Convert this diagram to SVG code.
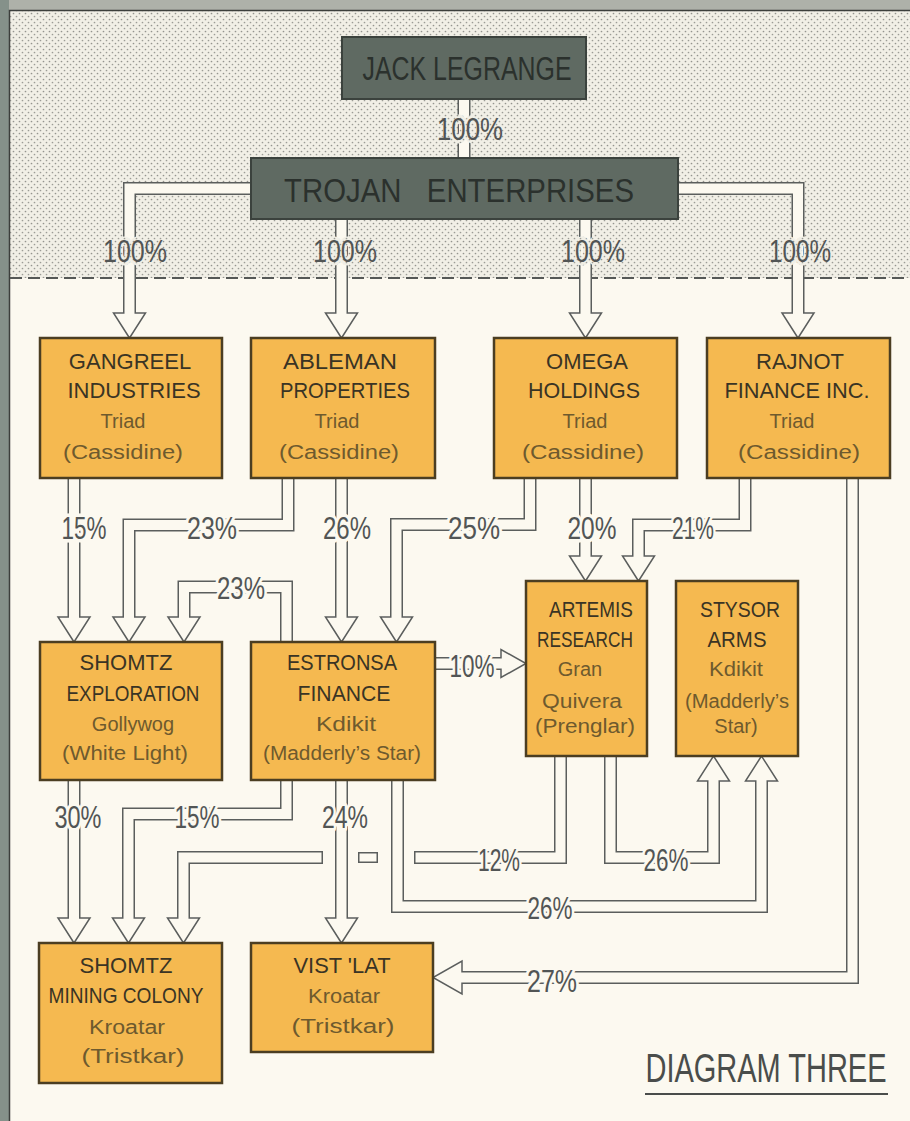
<svg xmlns="http://www.w3.org/2000/svg" width="910" height="1121" viewBox="0 0 910 1121">
<defs>
<pattern id="dots" width="6" height="6" patternUnits="userSpaceOnUse">
<rect width="6" height="6" fill="#f1efe6"/>
<circle cx="1.5" cy="1.5" r="0.85" fill="#94948e"/>
<circle cx="4.5" cy="4.5" r="0.85" fill="#9c9c96"/>
</pattern>
<style>
.po{fill:none;stroke:#5b5e5d;stroke-width:13;stroke-linejoin:miter}
.pi{fill:none;stroke:#fcf9f0;stroke-width:10;stroke-linejoin:miter}
.hd{fill:#fcf9f0;stroke:#5b5e5d;stroke-width:1.5;stroke-linejoin:miter}
.pc{fill:#fcf9f0;stroke:#5b5e5d;stroke-width:1.5}
.lb{font-family:"Liberation Sans",Arial,sans-serif;font-size:32px;fill:#525555;text-anchor:middle;stroke:#fcf9f0;stroke-width:7;paint-order:stroke;stroke-linejoin:round}
.lbs{stroke:url(#dots)}
.box{fill:#f5b950;stroke:#4b3e22;stroke-width:2.5}
.dbox{fill:#5f6a62;stroke:#3b423d;stroke-width:2}
.nm{font-family:"Liberation Sans",Arial,sans-serif;font-size:22px;fill:#3a3424;text-anchor:middle}
.sb{font-family:"Liberation Sans",Arial,sans-serif;font-size:20px;fill:#6e5a2e;text-anchor:middle}
.dk{font-family:"Liberation Sans",Arial,sans-serif;font-size:34px;fill:#2b312d;text-anchor:middle}
</style>
</defs>
<rect width="910" height="1121" fill="#fcf9f0"/>
<rect x="10" y="11" width="900" height="267" fill="url(#dots)"/>
<rect x="0" y="0" width="910" height="10" fill="#aeb1a9"/>
<rect x="0" y="0" width="9" height="1121" fill="#85918a"/>
<path d="M9.5 1121 V10.5 H910" fill="none" stroke="#3c3f3c" stroke-width="1.5"/>
<line x1="10" y1="278" x2="910" y2="278" stroke="#555856" stroke-width="2" stroke-dasharray="12 6"/>

<g id="connectors">
<g id="c-jack-trojan"><path class="po" d="M464 95 V162"/><path class="pi" d="M464 95 V162"/></g>
<g id="c-trojan-gangreel"><path class="po" d="M255 188.5 H129.5 V313"/><polygon class="hd" points="113.5,313 145.5,313 129.5,338"/><path class="pi" d="M255 188.5 H129.5 V315"/></g>
<g id="c-trojan-ableman"><path class="po" d="M341.5 215 V313"/><polygon class="hd" points="325.5,313 357.5,313 341.5,338"/><path class="pi" d="M341.5 215 V315"/></g>
<g id="c-trojan-omega"><path class="po" d="M585.5 215 V313"/><polygon class="hd" points="569.5,313 601.5,313 585.5,338"/><path class="pi" d="M585.5 215 V315"/></g>
<g id="c-trojan-rajnot"><path class="po" d="M674 188.5 H798 V313"/><polygon class="hd" points="782,313 814,313 798,338"/><path class="pi" d="M674 188.5 H798 V315"/></g>
<g id="c-gangreel-shomtzexp"><path class="po" d="M74 474 V617"/><polygon class="hd" points="58,617 90,617 74,642"/><path class="pi" d="M74 474 V619"/></g>
<g id="c-ableman-shomtzexp"><path class="po" d="M288 474 V525 H129 V617"/><polygon class="hd" points="113,617 145,617 129,642"/><path class="pi" d="M288 474 V525 H129 V619"/></g>
<g id="c-ableman-estronsa"><path class="po" d="M341.5 474 V617"/><polygon class="hd" points="325.5,617 357.5,617 341.5,642"/><path class="pi" d="M341.5 474 V619"/></g>
<g id="c-omega-estronsa"><path class="po" d="M530 474 V524.5 H396.5 V617"/><polygon class="hd" points="380.5,617 412.5,617 396.5,642"/><path class="pi" d="M530 474 V524.5 H396.5 V619"/></g>
<g id="c-omega-artemis"><path class="po" d="M585.5 474 V556"/><polygon class="hd" points="569.5,556 601.5,556 585.5,581"/><path class="pi" d="M585.5 474 V558"/></g>
<g id="c-rajnot-artemis"><path class="po" d="M745 474 V525 H638.5 V556"/><polygon class="hd" points="622.5,556 654.5,556 638.5,581"/><path class="pi" d="M745 474 V525 H638.5 V558"/></g>
<g id="c-rajnot-vistlat"><path class="po" d="M852.5 474 V977.5 H462"/><polygon class="hd" points="462,961 462,994 433,977.5"/><path class="pi" d="M852.5 474 V977.5 H460"/></g>
<g id="c-estronsa-shomtzexp"><path class="po" d="M286.5 646 V587 H184 V617"/><polygon class="hd" points="168,617 200,617 184,642"/><path class="pi" d="M286.5 646 V587 H184 V619"/></g>
<g id="c-estronsa-artemis"><path class="po" d="M431 663.5 H501"/><polygon class="hd" points="501,649.5 501,677.5 526,663.5"/><path class="pi" d="M431 663.5 H503"/></g>
<g id="c-shomtzexp-mining"><path class="po" d="M74 776 V918"/><polygon class="hd" points="58,918 90,918 74,943"/><path class="pi" d="M74 776 V920"/></g>
<g id="c-estronsa-mining"><path class="po" d="M286.5 776 V814 H128.5 V918"/><polygon class="hd" points="112.5,918 144.5,918 128.5,943"/><path class="pi" d="M286.5 776 V814 H128.5 V920"/></g>
<g id="c-estronsa-vistlat"><path class="po" d="M341.5 776 V918"/><polygon class="hd" points="325.5,918 357.5,918 341.5,943"/><path class="pi" d="M341.5 776 V920"/></g>
<g id="c-estronsa-stysor"><path class="po" d="M397.5 776 V906.5 H761.5 V781"/><polygon class="hd" points="745.5,781 777.5,781 761.5,756"/><path class="pi" d="M397.5 776 V906.5 H761.5 V779"/></g>
<g id="c-artemis-mining"><path class="po" d="M560.5 752 V857.5 H414"/><path class="pi" d="M560.5 752 V857.5 H415.5"/><rect class="pc" x="358.75" y="852.75" width="18.5" height="9.5"/><path class="po" d="M323 857.5 H183.5 V918"/><polygon class="hd" points="167.5,918 199.5,918 183.5,943"/><path class="pi" d="M321.5 857.5 H183.5 V920"/></g>
<g id="c-artemis-stysor"><path class="po" d="M610.5 752 V857.5 H713.5 V781"/><polygon class="hd" points="697.5,781 729.5,781 713.5,756"/><path class="pi" d="M610.5 752 V857.5 H713.5 V779"/></g>
<g id="labels">
<text class="lb lbs" x="470" y="140" textLength="66" lengthAdjust="spacingAndGlyphs">100%</text>
<text class="lb lbs" x="135" y="262" textLength="64" lengthAdjust="spacingAndGlyphs">100%</text>
<text class="lb lbs" x="345" y="262" textLength="64" lengthAdjust="spacingAndGlyphs">100%</text>
<text class="lb lbs" x="593" y="262" textLength="64" lengthAdjust="spacingAndGlyphs">100%</text>
<text class="lb lbs" x="800" y="262" textLength="62" lengthAdjust="spacingAndGlyphs">100%</text>
<text class="lb" x="84" y="539" textLength="45" lengthAdjust="spacingAndGlyphs">15%</text>
<text class="lb" x="212" y="539" textLength="50" lengthAdjust="spacingAndGlyphs">23%</text>
<text class="lb" x="347" y="539" textLength="48" lengthAdjust="spacingAndGlyphs">26%</text>
<text class="lb" x="474" y="539" textLength="52" lengthAdjust="spacingAndGlyphs">25%</text>
<text class="lb" x="592" y="539" textLength="49" lengthAdjust="spacingAndGlyphs">20%</text>
<text class="lb" x="693" y="539" textLength="42" lengthAdjust="spacingAndGlyphs">21%</text>
<text class="lb" x="241" y="599" textLength="48" lengthAdjust="spacingAndGlyphs">23%</text>
<text class="lb" x="472" y="677" textLength="45" lengthAdjust="spacingAndGlyphs">10%</text>
<text class="lb" x="78" y="828" textLength="47" lengthAdjust="spacingAndGlyphs">30%</text>
<text class="lb" x="197" y="828" textLength="45" lengthAdjust="spacingAndGlyphs">15%</text>
<text class="lb" x="345" y="828" textLength="46" lengthAdjust="spacingAndGlyphs">24%</text>
<text class="lb" x="499" y="871" textLength="42" lengthAdjust="spacingAndGlyphs">12%</text>
<text class="lb" x="666" y="871" textLength="45" lengthAdjust="spacingAndGlyphs">26%</text>
<text class="lb" x="550" y="919" textLength="45" lengthAdjust="spacingAndGlyphs">26%</text>
<text class="lb" x="552" y="992" textLength="50" lengthAdjust="spacingAndGlyphs">27%</text>
</g>
</g>

<g id="jack-legrange"><rect class="dbox" x="342" y="37" width="244" height="62"/><text class="dk" x="467" y="80" textLength="209" lengthAdjust="spacingAndGlyphs">JACK LEGRANGE</text></g>
<g id="trojan-enterprises"><rect class="dbox" x="251" y="158" width="427" height="61"/><text class="dk" x="459" y="202" textLength="350" lengthAdjust="spacingAndGlyphs" word-spacing="20">TROJAN ENTERPRISES</text></g>

<g id="gangreel"><rect class="box" x="40" y="338" width="182" height="140"/>
<text class="nm" x="130" y="369">GANGREEL</text><text class="nm" x="134" y="398">INDUSTRIES</text>
<text class="sb" x="123" y="428">Triad</text><text class="sb" x="123" y="459" textLength="120" lengthAdjust="spacingAndGlyphs">(Cassidine)</text></g>
<g id="ableman"><rect class="box" x="251" y="338" width="184" height="140"/>
<text class="nm" x="340" y="369" textLength="114" lengthAdjust="spacingAndGlyphs">ABLEMAN</text><text class="nm" x="345" y="398" textLength="130" lengthAdjust="spacingAndGlyphs">PROPERTIES</text>
<text class="sb" x="337" y="428">Triad</text><text class="sb" x="339" y="459" textLength="120" lengthAdjust="spacingAndGlyphs">(Cassidine)</text></g>
<g id="omega"><rect class="box" x="494" y="338" width="183" height="140"/>
<text class="nm" x="587" y="369">OMEGA</text><text class="nm" x="584" y="398" textLength="112" lengthAdjust="spacingAndGlyphs">HOLDINGS</text>
<text class="sb" x="585" y="428">Triad</text><text class="sb" x="583" y="459" textLength="122" lengthAdjust="spacingAndGlyphs">(Cassidine)</text></g>
<g id="rajnot"><rect class="box" x="707" y="338" width="183" height="140"/>
<text class="nm" x="800" y="369">RAJNOT</text><text class="nm" x="797" y="398" textLength="145" lengthAdjust="spacingAndGlyphs">FINANCE INC.</text>
<text class="sb" x="792" y="428">Triad</text><text class="sb" x="799" y="459" textLength="122" lengthAdjust="spacingAndGlyphs">(Cassidine)</text></g>

<g id="shomtz-exploration"><rect class="box" x="40" y="642" width="182" height="138"/>
<text class="nm" x="126" y="670">SHOMTZ</text><text class="nm" x="133" y="701" textLength="133" lengthAdjust="spacingAndGlyphs">EXPLORATION</text>
<text class="sb" x="133" y="731">Gollywog</text><text class="sb" x="125" y="760" textLength="126" lengthAdjust="spacingAndGlyphs">(White Light)</text></g>
<g id="estronsa-finance"><rect class="box" x="251" y="642" width="184" height="138"/>
<text class="nm" x="342" y="670" textLength="110" lengthAdjust="spacingAndGlyphs">ESTRONSA</text><text class="nm" x="344" y="701" textLength="93" lengthAdjust="spacingAndGlyphs">FINANCE</text>
<text class="sb" x="346" y="731" textLength="60" lengthAdjust="spacingAndGlyphs">Kdikit</text><text class="sb" x="342" y="760" textLength="158" lengthAdjust="spacingAndGlyphs">(Madderly’s Star)</text></g>

<g id="artemis-research"><rect class="box" x="526" y="581" width="121" height="175"/>
<text class="nm" x="591" y="617" textLength="84" lengthAdjust="spacingAndGlyphs">ARTEMIS</text><text class="nm" x="585" y="647" textLength="96" lengthAdjust="spacingAndGlyphs">RESEARCH</text>
<text class="sb" x="580" y="676">Gran</text><text class="sb" x="582" y="708" textLength="80" lengthAdjust="spacingAndGlyphs">Quivera</text><text class="sb" x="585" y="733" textLength="100" lengthAdjust="spacingAndGlyphs">(Prenglar)</text></g>
<g id="stysor-arms"><rect class="box" x="676" y="581" width="122" height="175"/>
<text class="nm" x="740" y="617" textLength="80" lengthAdjust="spacingAndGlyphs">STYSOR</text><text class="nm" x="737" y="647" textLength="59" lengthAdjust="spacingAndGlyphs">ARMS</text>
<text class="sb" x="736" y="676" textLength="54" lengthAdjust="spacingAndGlyphs">Kdikit</text><text class="sb" x="737" y="708" textLength="104" lengthAdjust="spacingAndGlyphs">(Madderly’s</text><text class="sb" x="736" y="733">Star)</text></g>

<g id="shomtz-mining-colony"><rect class="box" x="39" y="943" width="183" height="140"/>
<text class="nm" x="126" y="973">SHOMTZ</text><text class="nm" x="126" y="1003" textLength="155" lengthAdjust="spacingAndGlyphs">MINING COLONY</text>
<text class="sb" x="127" y="1034" textLength="76" lengthAdjust="spacingAndGlyphs">Kroatar</text><text class="sb" x="133" y="1063" textLength="103" lengthAdjust="spacingAndGlyphs">(Tristkar)</text></g>
<g id="vist-lat"><rect class="box" x="251" y="943" width="182" height="109"/>
<text class="nm" x="342" y="973" textLength="97" lengthAdjust="spacingAndGlyphs">VIST 'LAT</text>
<text class="sb" x="344" y="1003" textLength="72" lengthAdjust="spacingAndGlyphs">Kroatar</text><text class="sb" x="343" y="1033" textLength="103" lengthAdjust="spacingAndGlyphs">(Tristkar)</text></g>

<g id="title">
<text transform="translate(766 1082) scale(1 1.4)" x="0" y="0" font-family="'Liberation Sans',Arial,sans-serif" font-size="29" fill="#4a4d4b" text-anchor="middle">DIAGRAM THREE</text>
<line x1="645" y1="1094" x2="888" y2="1094" stroke="#4a4d4b" stroke-width="2"/>
</g>
</svg>
